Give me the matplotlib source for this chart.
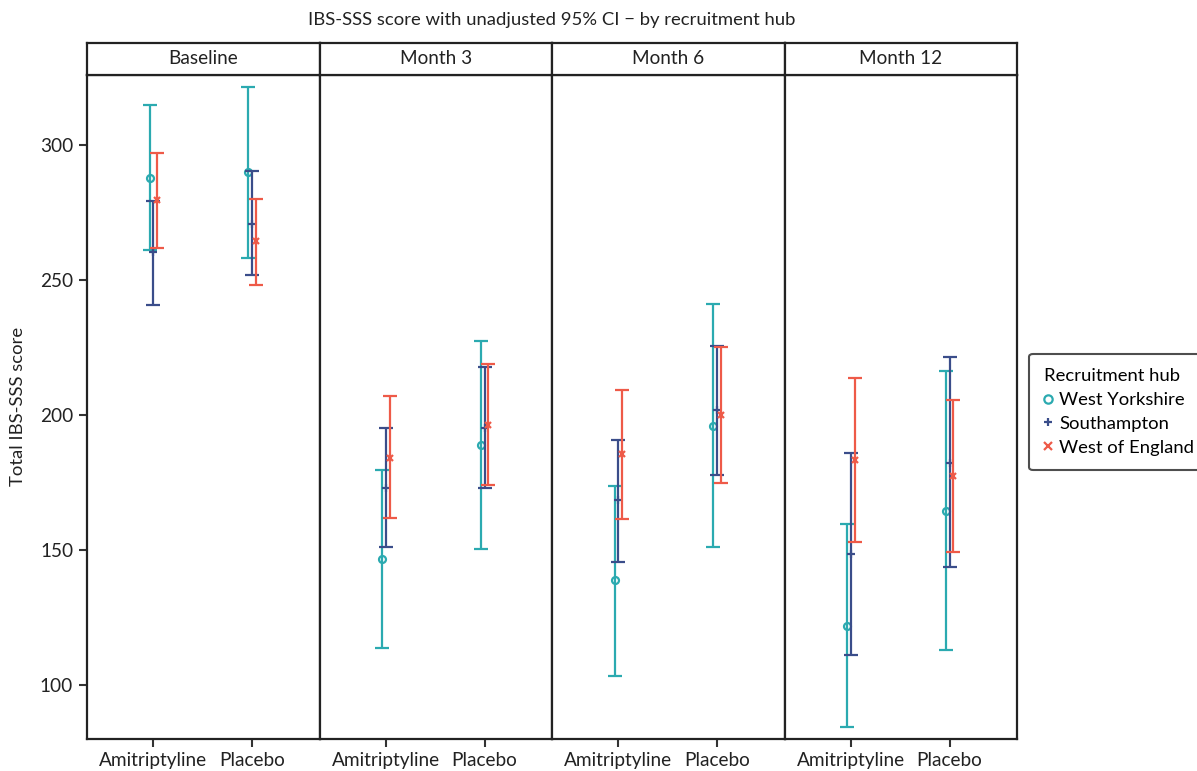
#!/usr/bin/env python
"""
IBS-SSS score with unadjusted 95% CI, faceted by visit, dodged by recruitment hub.
"""

import matplotlib

matplotlib.use("Agg")
import matplotlib.pyplot as plt
from matplotlib.lines import Line2D
import numpy as np

plt.rcParams["font.family"] = ["Lato", "DejaVu Sans"]

# ---- data ----
visits = ["Baseline", "Month 3", "Month 6", "Month 12"]
arms = ["Amitriptyline", "Placebo"]
hubs = ["West Yorkshire", "Southampton", "West of England"]

# mean per hub, [visit][arm]
wy_mean = [[287.9, 289.9], [146.6, 189.0], [138.7, 196.0], [121.8, 164.3]]
wy_low = [[261.1, 258.3], [113.6, 150.3], [103.3, 150.9], [84.2, 112.8]]
wy_high = [[314.8, 321.7], [179.5, 227.5], [173.7, 241.0], [159.4, 216.3]]

sh_mean = [[260.2, 270.9], [172.8, 195.3], [168.4, 201.9], [148.5, 182.3]]
sh_low = [[240.9, 251.7], [150.9, 172.8], [145.4, 177.8], [110.8, 143.6]]
sh_high = [[279.4, 290.3], [195.0, 217.7], [190.6, 225.7], [185.9, 221.4]]

we_mean = [[279.6, 264.3], [183.9, 196.1], [185.4, 199.8], [183.2, 177.3]]
we_low = [[262.0, 248.0], [161.6, 174.1], [161.3, 174.6], [153.0, 149.2]]
we_high = [[297.0, 280.0], [207.0, 218.7], [209.1, 225.2], [213.6, 205.5]]

yticks = [100, 150, 200, 250, 300]

# ---- styling ----
colors = ["#2BAAB0", "#3A4D8A", "#EE5A48"]
markers = ["o", "+", "x"]
dodge = [-0.037, 0.0, 0.037]

series = [
    (wy_mean, wy_low, wy_high),
    (sh_mean, sh_low, sh_high),
    (we_mean, we_low, we_high),
]

W, H = 1197, 771
fig = plt.figure(figsize=(W / 100, H / 100), dpi=100)

left, right = 87 / W, 1017 / W
strip_top, strip_bot = 1 - 43 / H, 1 - 75 / H
ax_bot = 1 - 738.5 / H
pw = (right - left) / len(visits)

x = np.arange(1, len(arms) + 1)

for i, visit in enumerate(visits):
    ax = fig.add_axes([left + i * pw, ax_bot, pw, strip_bot - ax_bot])
    sx = fig.add_axes([left + i * pw, strip_bot, pw, strip_top - strip_bot])

    for k, (m, lo, hi) in enumerate(series):
        mv = np.array(m[i])
        err = np.vstack([mv - np.array(lo[i]), np.array(hi[i]) - mv])
        ax.errorbar(
            x + dodge[k],
            mv,
            yerr=err,
            fmt="none",
            ecolor=colors[k],
            elinewidth=1.6,
            capsize=5,
            capthick=1.6,
            zorder=2 + k,
        )
        ax.plot(
            x + dodge[k],
            mv,
            linestyle="none",
            marker=markers[k],
            markersize=5 if k != 1 else 6,
            markerfacecolor="none" if k == 0 else colors[k],
            markeredgecolor=colors[k],
            markeredgewidth=1.6,
            zorder=3 + k,
        )

    ax.set_xlim(0.325, 2.685)
    ax.set_ylim(80, 326)
    ax.set_xticks(x)
    ax.set_xticklabels(arms)
    ax.set_yticks(yticks)
    ax.tick_params(axis="both", length=6, width=1.5, color="#333333", labelsize=13.7,
                   labelcolor="#222222", pad=4)
    if i > 0:
        ax.tick_params(axis="y", left=False, labelleft=False)
    for sp in ax.spines.values():
        sp.set_linewidth(1.6)
        sp.set_color("#222222")

    sx.set_xticks([])
    sx.set_yticks([])
    for sp in sx.spines.values():
        sp.set_linewidth(1.6)
        sp.set_color("#222222")
    sx.text(0.5, 0.5, visit, ha="center", va="center", fontsize=13.7, color="#222222",
            transform=sx.transAxes)

fig.text(0.5 * (left + right), 1 - 20 / H,
         "IBS-SSS score with unadjusted 95% CI \u2212 by recruitment hub",
         ha="center", va="center", fontsize=13.3, color="#222222")
fig.text(18 / W, 0.5 * (strip_bot + ax_bot), "Total IBS-SSS score", rotation=90,
         ha="center", va="center", fontsize=13.3, color="#222222")

handles = [
    Line2D([], [], linestyle="none", marker=markers[k], color=colors[k],
           markerfacecolor="none" if k == 0 else colors[k], markersize=6,
           markeredgewidth=1.6)
    for k in range(3)
]
leg = fig.legend(
    handles,
    hubs,
    title="Recruitment hub",
    loc="center left",
    bbox_to_anchor=(1029 / W, 1 - 412 / H),
    fontsize=13.3,
    title_fontsize=13.3,
    frameon=True,
    fancybox=True,
    edgecolor="#222222",
    handlelength=0.5,
    handletextpad=0.35,
    borderpad=0.8,
    labelspacing=0.42,
    borderaxespad=0,
)
leg._legend_box.align = "left"
leg.get_frame().set_linewidth(1.5)

fig.savefig("out.png", dpi=100)
